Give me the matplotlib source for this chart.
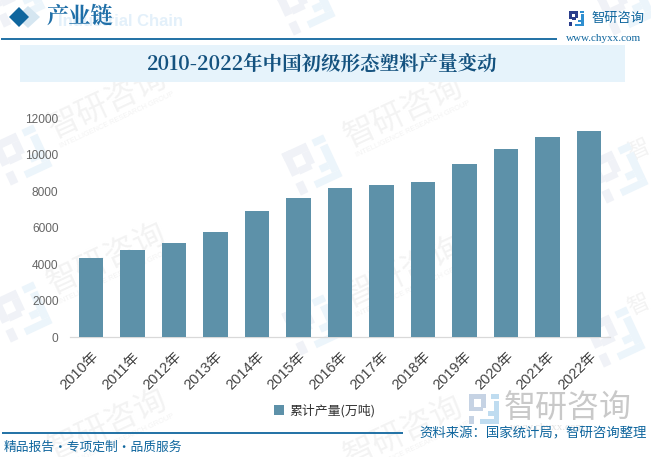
import matplotlib
matplotlib.use('Agg')
import matplotlib.pyplot as plt
from matplotlib.patches import Rectangle, Polygon
from matplotlib.transforms import Affine2D, ScaledTranslation

years = ['2010年','2011年','2012年','2013年','2014年','2015年','2016年','2017年','2018年','2019年','2020年','2021年','2022年']
output = [4350,4790,5170,5780,6940,7650,8200,8370,8530,9520,10350,11010,11340]
yticks = [0,2000,4000,6000,8000,10000,12000]
series_name = '累计产量(万吨)'
chart_title = '2010-2022年中国初级形态塑料产量变动'

W,H = 651,457
SANS = ['Noto Sans CJK SC','DejaVu Sans']
SERIF = ['Noto Serif CJK SC','Noto Sans CJK SC','DejaVu Sans']
plt.rcParams['font.family'] = SANS
BLUE = '#0F669E'
fig = plt.figure(figsize=(W/100,H/100),dpi=100,facecolor='white')
bg = fig.add_axes([0,0,1,1]); bg.set_xlim(0,W); bg.set_ylim(H,0); bg.axis('off')

LEFT = [(0,0,.58,.18),(0,0,.18,.55),(.40,.18,.18,.3),(.18,.42,.3,.16),(0,.72,.18,.28)]
RIGHT = [(.72,0,.28,.16),(.82,.22,.18,.62),(.62,.58,.2,.16),(.38,.84,.62,.16)]
def logo(x,y,s,c1,c2,rot=0):
    cx,cy = x+s/2,y+s/2
    tr = Affine2D().rotate_deg_around(cx,cy,rot)+bg.transData
    for parts,c in ((LEFT,c1),(RIGHT,c2)):
        for (dx,dy,w,h) in parts:
            bg.add_patch(Rectangle((x+dx*s,y+dy*s),w*s,h*s,fc=c,ec='none',zorder=1,transform=tr))

# watermarks
WM = '#F3F3F3'
for (x,y) in [(108,103),(404,112),(107,259),(404,272),(108,425),(404,432)]:
    bg.text(x,y,'智研咨询',fontsize=23,color=WM,rotation=25,ha='center',va='center',zorder=1,rotation_mode='anchor')
    bg.text(x+9,y+17,'INTELLIGENCE RESEARCH GROUP',fontsize=5.3,color=WM,rotation=25,ha='center',va='center',zorder=1,rotation_mode='anchor',family='Liberation Sans')
for (x,y) in [(639,150),(639,305)]:
    bg.text(x,y,'智',fontsize=16,color=WM,rotation=25,ha='center',va='center',zorder=1,rotation_mode='anchor')
for (x,y) in [(22,155),(312,165),(618,173),(22,312),(312,325),(615,337),(15,-3),(305,5),(625,5)]:
    logo(x-23,y-23,46,'#F0F2F7','#ECF5FB',rot=-25)

bg.text(58,22,'Industrial Chain',fontsize=12,color='#E3F0FA',fontweight='bold',ha='left',va='center',zorder=1,family='Liberation Sans')
bg.add_patch(Polygon([(16,17),(28,6),(40,17),(28,28)],fc='#D5E6F1',ec='none',zorder=2))
bg.add_patch(Polygon([(9,17),(19,7),(29,17),(19,27)],fc=BLUE,ec='none',zorder=3))
bg.text(47,17,'产业链',fontsize=16,color='#1F6FA8',family=SERIF,fontweight='bold',ha='left',va='center',zorder=4)
bg.plot([1,557],[38.5,38.5],color=BLUE,lw=1.3,zorder=4,solid_capstyle='butt')
logo(569,11,15,'#2B3E8C','#2F8FD0')
bg.text(591,18.5,'智研咨询',fontsize=9.5,color=BLUE,ha='left',va='center',zorder=4)
bg.text(566,38.5,'www.chyxx.com',fontsize=8,color=BLUE,family=['Liberation Serif'],ha='left',va='center',zorder=4)
bg.add_patch(Rectangle((20,45),605,37,fc='#E6F3FB',ec='none',zorder=2))
bg.text(322,64,chart_title,fontsize=14,color='#14527F',family=SERIF,fontweight='bold',ha='center',va='center',zorder=4)

# bottom
logo(469,394,30,'#C6D3E4','#BFDCF0')
bg.text(568,408,'智研咨询',fontsize=23,color='#C9C9C9',ha='center',va='center',zorder=2)
bg.text(548,428,'www.chyxx.com',fontsize=8,color='#E2E2E2',ha='center',va='center',zorder=2,family='Liberation Serif')
bg.plot([2,403],[432.5,432.5],color=BLUE,lw=1.3,zorder=4,solid_capstyle='butt')
bg.text(4,447,'精品报告·专项定制·品质服务',fontsize=9.2,color=BLUE,ha='left',va='center',zorder=4)
bg.text(647,433,'资料来源：国家统计局，智研咨询整理',fontsize=9.65,color=BLUE,ha='right',va='center',zorder=4)

# chart
L,R,T,B = 70.25,609.75,118.5,337.0
ax = fig.add_axes([L/W,1-B/H,(R-L)/W,(B-T)/H]); ax.patch.set_alpha(0)
ax.bar(range(len(years)),output,width=0.58,color='#5D91A9',label=series_name,zorder=3)
ax.set_xlim(-.5,len(years)-.5); ax.set_ylim(0,12000)
ax.set_yticks(yticks); ax.set_xticks(range(len(years)))
ax.set_xticklabels(years,rotation=45,ha='right',rotation_mode='anchor',fontsize=10.5,color='#444444')
off = ScaledTranslation(-2/100,0,fig.dpi_scale_trans)
for t in ax.get_xticklabels():
    t.set_transform(t.get_transform()+off)
    t.set_family(['Liberation Sans','Noto Sans CJK SC'])
ax.tick_params(axis='x',length=0,pad=9)
ax.tick_params(axis='y',length=0,pad=8.5,labelsize=8.6,labelcolor='#666666')
for t in ax.get_yticklabels(): t.set_family(['Liberation Sans'])
for s in ('top','left','right'): ax.spines[s].set_visible(False)
ax.spines['bottom'].set_color('#D9D9D9'); ax.spines['bottom'].set_linewidth(0.9)
fig.legend(*ax.get_legend_handles_labels(),loc='center',bbox_to_anchor=(324.5/W,1-411/H),frameon=False,
           fontsize=9.3,handlelength=.75,handleheight=.75,handletextpad=.4,labelcolor='#333333')
fig.savefig('out.png',dpi=100)
